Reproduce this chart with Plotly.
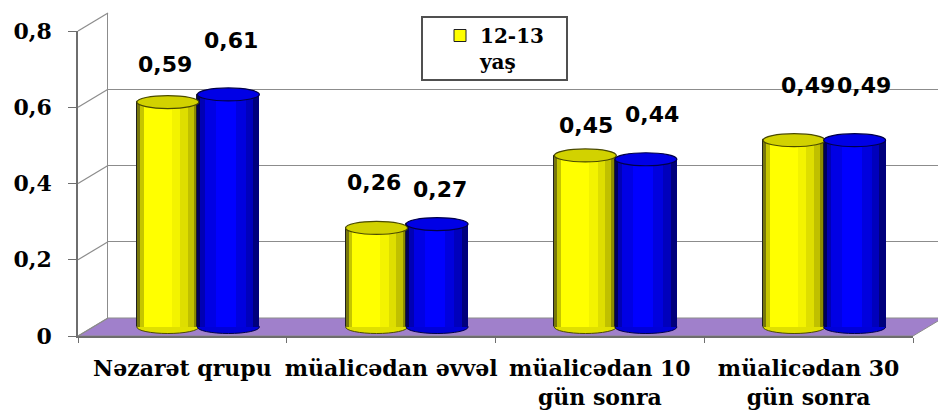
import plotly.graph_objects as go

# ---- data -------------------------------------------------------------
categories = [
    "Nəzarət qrupu",
    "müalicədan əvvəl",
    "müalicədan 10<br>gün sonra",
    "müalicədan 30<br>gün sonra",
]
series_names = ["12-13<br>yaş", ""]
values_yellow = [0.59, 0.26, 0.45, 0.49]
values_blue = [0.61, 0.27, 0.44, 0.49]
tick_values = [0, 0.2, 0.4, 0.6, 0.8]
tick_labels = ["0", "0,2", "0,4", "0,6", "0,8"]

# ---- page geometry of the pseudo-3D box (pixels) ----------------------
W, H = 938, 412
FRONT_LEFT, FRONT_RIGHT = 78, 913      # front plane, category span
FRONT_ZERO, FRONT_TOP = 336, 31        # front plane, y of 0 and of 0.8
DEPTH_DX, DEPTH_DY = 30, -18           # offset from front to back wall
VMAX = 0.8
PX_PER_UNIT = (FRONT_ZERO - FRONT_TOP) / VMAX


def px(x):
    return x / W


def py(y):
    return 1 - y / H


def plane(depth):
    """Pixel offsets of a plane at relative depth (0 front, 1 back)."""
    return depth * DEPTH_DX, depth * DEPTH_DY


def y_domain(depth, lo, hi):
    dx, dy = plane(depth)
    zero = FRONT_ZERO + dy
    return [py(zero - lo * PX_PER_UNIT), py(zero - hi * PX_PER_UNIT)]


def x_domain(depth):
    dx, dy = plane(depth)
    return [px(FRONT_LEFT + dx), min(1.0, px(FRONT_RIGHT + dx))]


GRID = "#8c8c8c"
AXIS = "#6e6e6e"
SERIF = dict(family="DejaVu Serif", size=22, color="black", weight="bold")
SANS = dict(family="DejaVu Sans", size=22, color="black", weight="bold")

# bars: width and left offset of each series within a category
BAR_W = 0.297
OFFSETS = [-0.29, 0.0]
MID_LO, MID_HI = -0.04, 0.84           # mid-depth plane range (room for the round base)
ELL_H = 6.5 / PX_PER_UNIT              # half height of the cylinder caps

# cylinder shading, (from, to, colour) as fractions of the bar width
SHADES = [
    [(0.00, 0.05, "#77770a"), (0.05, 0.11, "#c6c600"), (0.11, 0.56, "#ffff00"),
     (0.56, 0.70, "#f3f300"), (0.70, 0.82, "#dede00"), (0.82, 0.92, "#c0c000"),
     (0.92, 1.00, "#8a8a00")],
    [(0.00, 0.05, "#00005a"), (0.05, 0.12, "#0000b4"), (0.12, 0.30, "#0000e4"),
     (0.30, 0.62, "#0000ff"), (0.62, 0.78, "#0000de"), (0.78, 0.90, "#0000bc"),
     (0.90, 1.00, "#00007c")],
]
BASE_COLORS = ["#ffff00", "#0000ff"]
CAP_COLORS = ["#d2d200", "#0000e6"]
CAP_LINES = ["#4a4a00", "#000048"]
FOOT_COLORS = ["#e0e000", "#0000d8"]

# label placement (pixels) relative to the top of each bar
LABEL_DY = [[38, 45, 30, 55], [54, 35, 45, 55]]
LABEL_DX = [[-3, -3, 1, 14], [3, 3, 6, 9]]

fig = go.Figure()

# back wall subplot: gridlines only
fig.add_trace(go.Scatter(x=categories, y=values_yellow, mode="markers",
                         marker=dict(opacity=0), hoverinfo="skip",
                         showlegend=False, xaxis="x", yaxis="y"))

# bars on the mid-depth plane
for s, vals in enumerate([values_yellow, values_blue]):
    off = OFFSETS[s]
    fig.add_trace(go.Bar(
        x=categories, y=vals, name=series_names[s], showlegend=(s == 0),
        offset=off, width=BAR_W,
        marker=dict(color=BASE_COLORS[s], line=dict(color="#202020", width=1)),
        xaxis="x2", yaxis="y2", hoverinfo="skip"))
    for f0, f1, col in SHADES[s]:
        fig.add_trace(go.Bar(
            x=categories, y=vals, showlegend=False,
            offset=off + f0 * BAR_W, width=(f1 - f0) * BAR_W,
            marker=dict(color=col, line=dict(width=0)),
            xaxis="x2", yaxis="y2", hoverinfo="skip"))

# front plane: axis lines, ticks and labels
fig.add_trace(go.Scatter(x=categories, y=values_blue, mode="markers",
                         marker=dict(opacity=0), hoverinfo="skip",
                         showlegend=False, xaxis="x3", yaxis="y3"))

shapes = []
annotations = []

# purple floor
fx0, fy0 = FRONT_LEFT, FRONT_ZERO
bdx, bdy = plane(1)
floor = [(fx0, fy0), (fx0 + bdx, fy0 + bdy), (FRONT_RIGHT + bdx, fy0 + bdy),
         (FRONT_RIGHT, fy0)]
shapes.append(dict(
    type="path", xref="paper", yref="paper", layer="below",
    path="M " + " L ".join(f"{px(a):.5f},{py(b):.5f}" for a, b in floor) + " Z",
    fillcolor="#a080cb", line=dict(color=GRID, width=1)))

# left wall: diagonals joining the front ticks to the back gridlines
for v in tick_values:
    yf = FRONT_ZERO - v * PX_PER_UNIT
    shapes.append(dict(type="line", xref="paper", yref="paper",
                       x0=px(FRONT_LEFT), y0=py(yf),
                       x1=px(FRONT_LEFT + bdx), y1=py(yf + bdy),
                       line=dict(color=GRID, width=1.2)))

# cylinder caps and rounded bases
for s, vals in enumerate([values_yellow, values_blue]):
    off = OFFSETS[s]
    for i, v in enumerate(vals):
        x0, x1 = i + off, i + off + BAR_W
        shapes.append(dict(type="circle", xref="x2", yref="y2", layer="below",
                           x0=x0, x1=x1, y0=-ELL_H, y1=ELL_H,
                           fillcolor=FOOT_COLORS[s],
                           line=dict(color=CAP_LINES[s], width=1)))
        shapes.append(dict(type="circle", xref="x2", yref="y2", layer="above",
                           x0=x0, x1=x1, y0=v - ELL_H, y1=v + ELL_H,
                           fillcolor=CAP_COLORS[s],
                           line=dict(color=CAP_LINES[s], width=1.2)))
        annotations.append(dict(
            xref="x2", yref="y2", x=i + off + BAR_W / 2, y=v,
            text=f"{v:.2f}".replace(".", ","), showarrow=False,
            xshift=LABEL_DX[s][i], yshift=LABEL_DY[s][i], font=SANS))

# legend frame
shapes.append(dict(type="rect", xref="paper", yref="paper",
                   x0=px(422), x1=px(567), y0=py(80), y1=py(17),
                   line=dict(color="#505050", width=2), fillcolor="white",
                   layer="above"))

fig.update_layout(
    width=W, height=H, autosize=False,
    margin=dict(l=0, r=0, t=0, b=0, pad=0, autoexpand=False),
    paper_bgcolor="white", plot_bgcolor="rgba(0,0,0,0)",
    barmode="overlay", bargap=0,
    showlegend=True,
    legend=dict(x=px(440), y=py(16), xanchor="left", yanchor="top",
                bgcolor="rgba(0,0,0,0)", borderwidth=0, valign="top",
                font=dict(SERIF, size=20), itemwidth=30),
    shapes=shapes, annotations=annotations,
    # back wall
    xaxis=dict(domain=x_domain(1), visible=False, type="category",
               categoryorder="array", categoryarray=categories,
               range=[-0.5, 3.5], anchor="y", fixedrange=True,
               automargin=False),
    yaxis=dict(domain=y_domain(1, 0, VMAX), range=[0, VMAX], anchor="x",
               tickvals=tick_values, showticklabels=False, ticks="",
               showgrid=True, gridcolor=GRID, gridwidth=1.2,
               showline=True, linecolor=GRID, linewidth=1.2,
               zeroline=False, fixedrange=True, automargin=False),
    # mid-depth plane carrying the bars
    xaxis2=dict(domain=x_domain(0.5), visible=False, type="category",
                categoryorder="array", categoryarray=categories,
                range=[-0.5, 3.5], anchor="y2", fixedrange=True,
                automargin=False),
    yaxis2=dict(domain=y_domain(0.5, MID_LO, MID_HI), range=[MID_LO, MID_HI],
                visible=False, anchor="x2", fixedrange=True, automargin=False),
    # front plane with the visible axes
    xaxis3=dict(domain=x_domain(0), type="category",
                categoryorder="array", categoryarray=categories,
                range=[-0.5, 3.5], anchor="y3", showgrid=False,
                showline=True, linecolor=AXIS, linewidth=1.5,
                ticks="outside", tickson="boundaries", ticklen=5,
                tickcolor=AXIS, tickangle=0, ticklabelstandoff=12,
                tickfont=SERIF, fixedrange=True, automargin=False),
    yaxis3=dict(domain=y_domain(0, 0, VMAX), range=[0, VMAX], anchor="x3",
                tickvals=tick_values, ticktext=tick_labels,
                showgrid=False, zeroline=False,
                showline=True, linecolor=AXIS, linewidth=1.5,
                ticks="outside", ticklen=8, tickcolor=AXIS,
                ticklabelstandoff=12, tickfont=SERIF, fixedrange=True,
                automargin=False),
)

fig.write_html("out.html")
